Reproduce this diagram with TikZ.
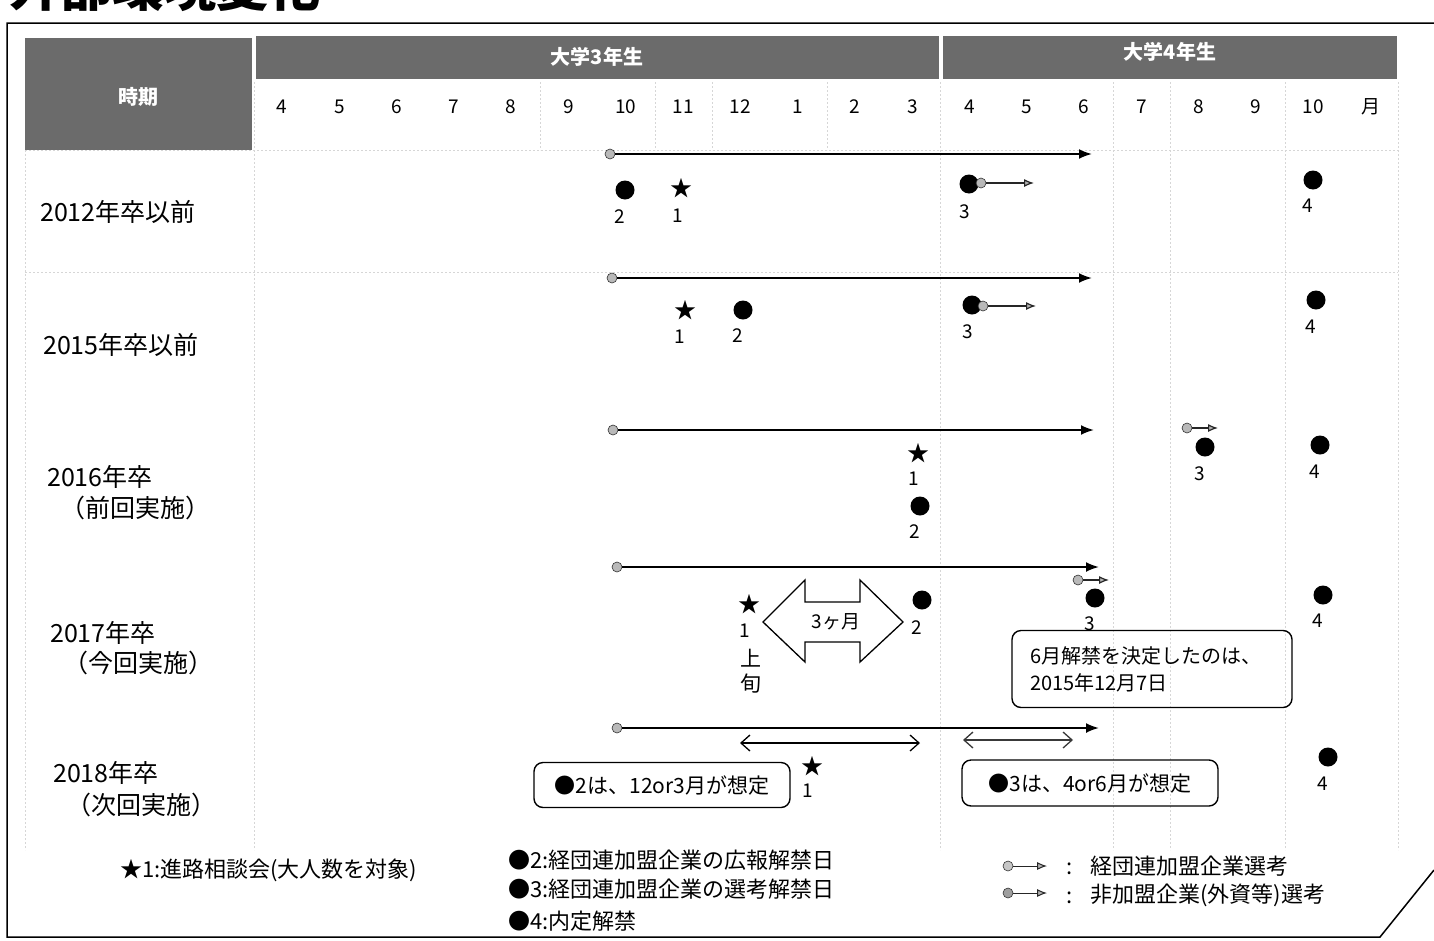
\documentclass[tikz,border=0pt]{standalone}
\usepackage{fontspec}
\setmainfont{Noto Sans CJK JP}
\usetikzlibrary{arrows.meta}
\tikzset{
 hdrbox/.style={fill=black!58, draw=none},
 hdrtxt/.style={text=white, font=\fontsize{20}{24}\selectfont\bfseries},
 mon/.style={font=\fontsize{19}{23}\selectfont},
 rowlbl/.style={anchor=west, font=\fontsize{25}{30}\selectfont, inner sep=0},
 bdot/.style={circle, fill=black, inner sep=0, minimum size=19pt},
 gdot/.style={circle, fill=gray!55, draw=gray!40!black, line width=0.6pt, inner sep=0, minimum size=10pt},
 starm/.style={font=\fontsize{22}{24}\selectfont, inner sep=0},
 num/.style={font=\fontsize{19}{22}\selectfont, inner sep=0},
 mainarr/.style={line width=2pt, -{Latex[length=13pt,width=10pt]}},
 sarr/.style={line width=1.2pt, draw=gray!30!black, -{Latex[length=10pt,width=8pt,fill=gray!60]}},
 dblarr/.style={line width=1.3pt, {Straight Barb[length=9pt,width=16pt]}-{Straight Barb[length=9pt,width=16pt]}},
 callout/.style={draw, line width=1.4pt, rounded corners=9pt},
 gridl/.style={draw=gray!32, line width=0.7pt, dash pattern=on 2pt off 2pt},
 leg/.style={anchor=west, font=\fontsize{22}{24}\selectfont, inner sep=0},
}
\begin{document}
\begin{tikzpicture}[x=1pt,y=-1pt]
\useasboundingbox (0,0) rectangle (1434,940);
\clip (0,0) rectangle (1434,940);
\fill[white] (0,0) rectangle (1434,940);
% title (cut off at top, as in the reference)
\node[anchor=base west, inner sep=0, font=\fontsize{52}{52}\selectfont\bfseries] (title) at (8,6) {外部環境変化};
% frame
\draw[line width=1.5pt] (1434,23) -- (7,23) -- (7,937) -- (1380,937) -- (1434,870);
% grid lines
\foreach \x in {540,655,712,827}{\draw[gridl] (\x,82) -- (\x,150);}
\foreach \x in {254,940,1113,1170,1285,1398}{\draw[gridl] (\x,82) -- (\x,850);}
\draw[gridl] (25,150) -- (25,850);
\draw[gridl] (25,150) -- (1398,150);
\draw[gridl] (25,272) -- (1398,272);
% header
\fill[hdrbox] (25,38) rectangle (252,150);
\fill[hdrbox] (256,36) rectangle (939,79);
\fill[hdrbox] (943,36) rectangle (1397,79);
\node[hdrtxt] (jiki) at (138,97) {時期};
\node[hdrtxt] (y3) at (597,57) {大学3年生};
\node[hdrtxt] (y4) at (1170,52) {大学4年生};
\foreach \m [count=\i from 0] in {4,5,6,7,8,9,10,11,12,1,2,3,4,5,6,7,8,9,10,月}{
  \node[mon] (m\i) at (282+57.3*\i,107) {\m};
}
% row labels
\node[rowlbl] (r1) at (40,212) {2012年卒以前};
\node[rowlbl] (r2) at (43,345) {2015年卒以前};
\node[rowlbl] (r3a) at (47,477) {2016年卒};
\node[rowlbl] (r3b) at (60,508) {（前回実施）};
\node[rowlbl] (r4a) at (50,633) {2017年卒};
\node[rowlbl] (r4b) at (63,663) {（今回実施）};
\node[rowlbl] (r5a) at (53,773) {2018年卒};
\node[rowlbl] (r5b) at (66,805) {（次回実施）};
% main arrows
\node[gdot] (s1) at (610,154) {}; \coordinate (e1) at (1092,154); \draw[mainarr] (s1) -- (e1);
\node[gdot] (s2) at (612,278) {}; \coordinate (e2) at (1092,278); \draw[mainarr] (s2) -- (e2);
\node[gdot] (s3) at (613,430) {}; \coordinate (e3) at (1094,430); \draw[mainarr] (s3) -- (e3);
\node[gdot] (s4) at (617,567) {}; \coordinate (e4) at (1099,567); \draw[mainarr] (s4) -- (e4);
\node[gdot] (s5) at (617,728) {}; \coordinate (e5) at (1099,728); \draw[mainarr] (s5) -- (e5);
% row 1
\node[bdot] (d1a) at (625,190) {}; \node[num] (n1a) at (620,217) {2};
\node[starm] (st1) at (681,188) {★}; \node[num] (n1b) at (678,216) {1};
\node[bdot] (d1c) at (969,184) {}; \node[num] (n1c) at (965,212) {3};
\node[gdot] (g1) at (981,183) {}; \coordinate (ge1) at (1034,183); \draw[sarr] (g1) -- (ge1);
\node[bdot] (d1d) at (1313,180) {}; \node[num] (n1d) at (1308,206) {4};
% row 2
\node[starm] (st2) at (685,310) {★}; \node[num] (n2a) at (680,337) {1};
\node[bdot] (d2b) at (743,310) {}; \node[num] (n2b) at (738,336) {2};
\node[bdot] (d2c) at (972,305) {}; \node[num] (n2c) at (968,332) {3};
\node[gdot] (g2) at (983,306) {}; \coordinate (ge2) at (1036,306); \draw[sarr] (g2) -- (ge2);
\node[bdot] (d2d) at (1316,300) {}; \node[num] (n2d) at (1311,327) {4};
% row 3
\node[starm] (st3) at (918,453) {★}; \node[num] (n3a) at (914,479) {1};
\node[bdot] (d3b) at (920,506) {}; \node[num] (n3b) at (915,532) {2};
\node[gdot] (g3) at (1187,428) {}; \coordinate (ge3) at (1218,428); \draw[sarr] (g3) -- (ge3);
\node[bdot] (d3c) at (1205,447) {}; \node[num] (n3c) at (1200,474) {3};
\node[bdot] (d3d) at (1320,445) {}; \node[num] (n3d) at (1315,472) {4};
% row 4
\node[starm] (st4) at (749,604) {★}; \node[num] (n4a) at (745,631) {1};
\node[num, font=\fontsize{21}{24}\selectfont] (jo) at (751,658) {上};
\node[num, font=\fontsize{21}{24}\selectfont] (jun) at (751,684) {旬};
\draw[line width=1.3pt, line join=miter] (763,622) -- (805,580) -- (805,602) -- (860,602) -- (860,580) -- (903,622) -- (860,662) -- (860,642) -- (805,642) -- (805,662) -- cycle;
\node[font=\fontsize{19}{22}\selectfont] (three) at (836,622) {3ヶ月};
\node[bdot] (d4b) at (922,600) {}; \node[num] (n4b) at (917,628) {2};
\node[gdot] (g4) at (1078,580) {}; \coordinate (ge4) at (1109,580); \draw[sarr] (g4) -- (ge4);
\node[bdot] (d4c) at (1095,598) {}; \node[num] (n4c) at (1090,624) {3};
\node[bdot] (d4d) at (1323,595) {}; \node[num] (n4d) at (1318,621) {4};
\node[callout, text width=244pt, inner xsep=18pt, minimum height=77pt, align=left, font=\fontsize{20}{27}\selectfont] (c1) at (1152,669) {6月解禁を決定したのは、\\2015年12月7日};
% row 5
\coordinate (da1) at (740,743); \coordinate (da2) at (920,743); \draw[dblarr] (da1) -- (da2);
\coordinate (db1) at (963,740); \coordinate (db2) at (1073,740); \draw[dblarr, draw=gray!45!black] (db1) -- (db2);
\node[callout, minimum width=256pt, minimum height=45pt, font=\fontsize{21}{24}\selectfont] (c2) at (662,785) {●2は、12or3月が想定};
\node[starm] (st5) at (812,766) {★}; \node[num] (n5a) at (808,791) {1};
\node[callout, minimum width=256pt, minimum height=46pt, font=\fontsize{21}{24}\selectfont] (c3) at (1090,783) {●3は、4or6月が想定};
\node[bdot] (d5d) at (1328,757) {}; \node[num] (n5d) at (1323,784) {4};
% legend
\node[leg] (l1) at (120,870) {★1:進路相談会(大人数を対象)};
\node[leg] (l2) at (508,860) {●2:経団連加盟企業の広報解禁日};
\node[leg] (l3) at (508,889) {●3:経団連加盟企業の選考解禁日};
\node[leg] (l4) at (508,921) {●4:内定解禁};
\node[gdot, fill=gray!45] (lg1) at (1008,866) {}; \coordinate (lge1) at (1047,866); \draw[sarr, line width=1pt] (lg1) -- (lge1);
\node[gdot, fill=gray!75] (lg2) at (1008,893) {}; \coordinate (lge2) at (1047,893); \draw[sarr, line width=1pt] (lg2) -- (lge2);
\node[leg] (lc1) at (1066,869) {:};
\node[leg] (lc2) at (1066,898) {:};
\node[leg] (lt1) at (1090,866) {経団連加盟企業選考};
\node[leg] (lt2) at (1090,895) {非加盟企業(外資等)選考};
\end{tikzpicture}
\end{document}
